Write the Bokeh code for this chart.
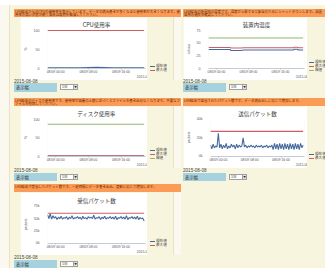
import pandas as pd
from bokeh.plotting import figure
from bokeh.models import Div, Spacer, Range1d, FixedTicker, Label
from bokeh.layouts import row, column
from bokeh.embed import file_html
from bokeh.resources import INLINE

FONT_JP = "Noto Sans CJK JP"
FONT_NUM = "Liberation Sans"
CREAM = "#f8f5df"
CREAM_LIGHT = "#fbf9ef"
ORANGE = "#fc9b55"
LBLUE = "#a6d1de"
C_BLUE = "#46699d"
C_RED = "#cc5d66"
C_GREEN = "#94b56e"

# ---------------- data ----------------
x_start = "2015-08-08 22:00"
x_end = "2015-08-09 22:00"
x_tick_times = ["2015-08-09 00:00", "2015-08-09 08:00", "2015-08-09 16:00"]
x_tick_labels = ["08/09 00:00", "08/09 08:00", "08/09 16:00"]
date_left = "2015-08-08"
date_right = "2015-08-09"
range_label = "表示幅"
range_value = "1日"

series_labels = ["現在値", "最大値", "閾値"]

span_times = ["2015-08-08 22:00", "2015-08-09 21:40"]

# CPU使用率 (%)
cpu_times = ["2015-08-08 22:00", "2015-08-09 02:00", "2015-08-09 06:00", "2015-08-09 10:00",
             "2015-08-09 14:00", "2015-08-09 18:00", "2015-08-09 21:40"]
cpu_now = [1, 1, 1, 2, 1, 1, 1]
cpu_max = [100, 100]

# 装置内温度 (celsius)
temp_times = ["2015-08-08 22:00", "2015-08-09 03:20", "2015-08-09 03:40", "2015-08-09 06:10",
              "2015-08-09 06:40", "2015-08-09 19:10", "2015-08-09 19:30", "2015-08-09 20:10",
              "2015-08-09 20:30", "2015-08-09 21:40"]
temp_now = [37, 37, 35, 35, 36, 36, 37.5, 37.5, 36, 36]
temp_max = [41, 41, 40, 40, 40.5, 40.5, 41.5, 41.5, 40.5, 40.5]
temp_thr = [60, 60]

# ディスク使用率 (%)
disk_now = [0.5, 0.5]
disk_max = [1, 1]
disk_thr = [87, 87]

# 送信パケット数 (k packets), 20 min steps from 22:00
send_now = [12, 8, 13, 9, 11, 10,
            25,
            9, 13, 8, 12, 9, 14, 8, 11, 9, 13, 10, 12, 8, 13, 9, 12, 10, 11,
            20,
            10, 12, 9, 11, 10, 12, 10, 11, 9, 12, 10, 11, 10, 12, 9, 11, 10, 12, 9, 11, 10, 12,
            7, 14, 8, 13, 7, 14, 8, 13, 7, 14, 8, 13, 7, 14, 8, 13, 7, 14, 8, 13, 7, 14, 9, 12]
send_max = [27, 27]

# 受信パケット数 (k packets), 20 min steps from 22:00
recv_now = [58, 50, 60, 49, 56, 51,
            54, 48, 53, 50, 55, 49, 52, 51, 54, 48, 53, 50, 56, 49, 52, 51, 54, 50,
            53, 48, 55, 50, 52, 49, 54, 51, 53, 50, 57, 49, 52, 51, 54, 48, 53, 50, 55, 49, 52, 51, 54, 50,
            53, 49, 55, 48, 52, 51, 54, 50, 53, 49, 56, 48, 52, 51, 54, 50, 53, 49, 55, 48, 52, 50, 51, 45]
recv_max = [61, 61]

headers = [
    "LAN経由からのCPUの使用率を表示しています。データの読み書きが多くなると使用率が大きくなります。使用率の高い状態が続く場合は負荷を軽減してください。",
    "LAN経由の装置内の温度です。温度が上昇すると安全のためにシャットダウンします。設置場所の通気を確認してください。",
    "LAN経由のディスク使用率です。使用率が容量の上限に近づくとファイルを書き込めなくなります。不要なファイルを削除してください。",
    "LAN経由で送信されたパケット数です。データ読み出しに応じて増加します。",
    "LAN経由で受信したパケット数です。一定時間にデータ書き込み、更新に応じて増加します。",
]
titles = ["CPU使用率", "装置内温度", "ディスク使用率", "送信パケット数", "受信パケット数"]


def ms(t):
    return int(pd.Timestamp(t).value // 10**6)


def make_chart(title, lines, y_lo, y_hi, y_ticks, y_tick_labels, y_title, w, h, left, right, top):
    p = figure(width=w, height=h, x_axis_type="datetime",
               x_range=Range1d(ms(x_start), ms(x_end)), y_range=Range1d(y_lo, y_hi),
               output_backend="svg", toolbar_location=None, title=title,
               min_border_left=left, min_border_right=right, min_border_top=top, min_border_bottom=8)
    p.background_fill_color = "white"
    p.border_fill_color = "white"
    p.outline_line_color = None
    p.xgrid.visible = False
    p.ygrid.visible = False
    p.title.align = "center"
    p.title.text_font = FONT_JP
    p.title.text_font_size = "5.5px"
    p.title.text_font_style = "normal"
    p.title.text_color = "#333333"
    p.title.standoff = 2
    for t, v, c in lines:
        p.line(x=pd.to_datetime(t), y=v, line_color=c, line_width=1.1)
    xa = p.xaxis[0]
    xa.ticker = FixedTicker(ticks=[ms(t) for t in x_tick_times])
    xa.major_label_overrides = {ms(t): lab for t, lab in zip(x_tick_times, x_tick_labels)}
    xa.major_label_text_font = FONT_NUM
    xa.major_label_text_font_size = "3.4px"
    xa.major_label_text_color = "#555555"
    xa.major_label_standoff = 0
    xa.axis_line_color = "#c3cbd8"
    xa.major_tick_line_color = "#b8b8b8"
    xa.major_tick_in = 0
    xa.major_tick_out = 1
    xa.minor_tick_line_color = None
    use_axis_label = True
    try:
        xa.axis_label_align = "end"
    except AttributeError:
        use_axis_label = False
    if use_axis_label:
        xa.axis_label = date_right
        xa.axis_label_text_font = FONT_NUM
        xa.axis_label_text_font_size = "3.4px"
        xa.axis_label_text_font_style = "normal"
        xa.axis_label_text_color = "#555555"
        xa.axis_label_text_align = "right"
        xa.axis_label_standoff = -2
    else:
        fw = w - left - right
        p.add_layout(Label(x=fw + right - 1, y=-2.5, x_units="screen", y_units="screen", text=date_right,
                           text_align="right", text_baseline="top", text_font=FONT_NUM,
                           text_font_size="3.4px", text_color="#555555"))
    ya = p.yaxis[0]
    ya.ticker = FixedTicker(ticks=y_ticks)
    ya.major_label_overrides = {t: lab for t, lab in zip(y_ticks, y_tick_labels)}
    ya.major_label_text_font = FONT_NUM
    ya.major_label_text_font_size = "3.6px"
    ya.major_label_text_color = "#555555"
    ya.major_label_standoff = 2
    ya.axis_line_color = None
    ya.major_tick_line_color = None
    ya.minor_tick_line_color = None
    ya.axis_label = y_title
    ya.axis_label_text_font = FONT_NUM
    ya.axis_label_text_font_size = "3.4px"
    ya.axis_label_text_font_style = "normal"
    ya.axis_label_text_color = "#555555"
    ya.axis_label_standoff = 3
    return p


def legend_div(items, w, h, top, pad_left):
    rows_html = "".join(
        f'<div style="height:4px;line-height:4px;white-space:nowrap">'
        f'<span style="display:inline-block;width:5px;height:1px;background:{c};vertical-align:middle;margin-right:1px"></span>{lab}</div>'
        for lab, c in items)
    html = f'<div style="padding-top:{top}px;padding-left:{pad_left}px">{rows_html}</div>'
    return Div(text=html, width=w, height=h, margin=0,
               styles={"font-size": "3.6px", "line-height": "4px", "font-family": FONT_JP,
                       "color": "#444444", "overflow": "hidden"})


def header_div(text, w):
    html = f'<div style="padding:0.5px 1px">{text}</div>'
    return Div(text=html, width=w, height=8, margin=0,
               styles={"background-color": ORANGE, "color": "#5b2a0c", "font-size": "3.4px",
                       "line-height": "3.6px", "overflow": "hidden", "font-family": FONT_JP})


def date_div(w, h):
    return Div(text=date_left, width=w, height=h, margin=0,
               styles={"font-size": "4.6px", "line-height": f"{h}px", "color": "#444444",
                       "font-family": FONT_NUM, "overflow": "visible", "white-space": "nowrap"})


def controls(h):
    lab = Div(text=f'<div style="padding-left:2px">{range_label}</div>', width=43, height=h, margin=0,
              styles={"background-color": LBLUE, "font-size": "4.3px", "line-height": f"{h}px",
                      "color": "#333333", "font-family": FONT_JP, "overflow": "hidden"})
    sel_html = (
        '<div style="box-sizing:border-box;width:18px;height:6px;margin-top:1px;border:1px solid #a0a0a0;'
        'background:#ffffff;font-size:3.6px;line-height:4px;position:relative;padding-left:1px">'
        f'{range_value}<div style="position:absolute;right:0;top:0;width:4px;height:4px;background:#e2e2e2;'
        'border-left:1px solid #a0a0a0;font-size:2.6px;line-height:4px;text-align:center">▼</div></div>')
    sel = Div(text=sel_html, width=19, height=h, margin=0,
              styles={"font-family": FONT_JP, "color": "#333333", "font-size": "3.6px",
                      "line-height": "4px", "overflow": "hidden"})
    return row(lab, Spacer(width=3, height=h), sel)


def panel(idx, lines, legend_items, y_lo, y_hi, y_ticks, y_tick_labels, y_title, geo, rowgeo):
    col_w, offset, indent, fig_w, left, right, leg_w, strip_w, leg_pad = geo
    gap, chart_h, top, date_h, ctrl_h = rowgeo
    inner = col_w - offset
    fig = make_chart(titles[idx], lines, y_lo, y_hi, y_ticks, y_tick_labels, y_title,
                     fig_w, chart_h, left, right, top)
    n = len(legend_items)
    leg = legend_div(legend_items, leg_w, chart_h, chart_h - 8 - 4 * n, leg_pad)
    chart_children = [Spacer(width=indent, height=chart_h)] if indent else []
    chart_children += [fig, leg]
    if strip_w:
        chart_children.append(Div(width=strip_w, height=chart_h, margin=0,
                                  styles={"background": f"linear-gradient(to right, #e9e3c4 1px, {CREAM_LIGHT} 1px)"}))
    body = column(Spacer(width=inner, height=gap), header_div(headers[idx], inner),
                  row(*chart_children), date_div(inner, date_h), controls(ctrl_h))
    return row(Spacer(width=offset, height=10), body)


# column geometry: col_w, offset, indent, fig_w, min_left, min_right, legend_w, strip_w, legend_pad
GEO_L = (171, 4, 6, 127, 24, 2, 26, 8, 3)
GEO_R = (144, 2, 0, 124, 21, 3, 18, 0, 2)
# row geometry: gap, chart_h, min_top, date_h, ctrl_h
ROW1 = (4, 63, 12, 3, 9)
ROW2 = (6, 62, 10, 5, 8)
ROW3 = (3, 63, 13, 5, 8)

leg2 = [(series_labels[0], C_BLUE), (series_labels[1], C_RED)]
leg3 = [(series_labels[0], C_BLUE), (series_labels[1], C_RED), (series_labels[2], C_GREEN)]

p_cpu = panel(0, [(cpu_times, cpu_now, C_BLUE), (span_times, cpu_max, C_RED)], leg2,
              -1, 102.5, [0, 50, 100], ["0", "50", "100"], "%", GEO_L, ROW1)
p_temp = panel(1, [(temp_times, temp_now, C_BLUE), (temp_times, temp_max, C_RED),
                   (span_times, temp_thr, C_GREEN)], leg3,
               -0.8, 76.8, [0, 25, 50, 75], ["0", "25", "50", "75"], "celsius", GEO_R, ROW1)
p_disk = panel(2, [(span_times, disk_now, C_BLUE), (span_times, disk_max, C_RED),
                   (span_times, disk_thr, C_GREEN)], leg3,
               -1, 102.5, [0, 50, 100], ["0", "50", "100"], "%", GEO_L, ROW2)
send_times = pd.date_range(x_start, periods=len(send_now), freq="20min")
recv_times = pd.date_range(x_start, periods=len(recv_now), freq="20min")
p_send = panel(3, [(send_times, send_now, C_BLUE), (span_times, send_max, C_RED)], leg2,
               -0.4, 41, [0, 20, 40], ["0k", "20k", "40k"], "packets", GEO_R, ROW2)
p_recv = panel(4, [(recv_times, recv_now, C_BLUE), (span_times, recv_max, C_RED)], leg2,
               -0.8, 76.8, [0, 25, 50, 75], ["0k", "25k", "50k", "75k"], "packets", GEO_L, ROW3)
empty = Spacer(width=GEO_R[0], height=sum(ROW3) - ROW3[2])

grid = column(row(p_cpu, p_temp), row(p_disk, p_send), row(p_recv, empty))
left_strip = Div(width=10, height=263, margin=0,
                 styles={"background": f"linear-gradient(to right, {CREAM_LIGHT} 9px, #e9e3c4 9px)"})
body = row(left_strip, grid, styles={"background-color": CREAM})
root = column(Spacer(width=325, height=5), body)

open("out.html", "w").write(file_html(root, INLINE))
